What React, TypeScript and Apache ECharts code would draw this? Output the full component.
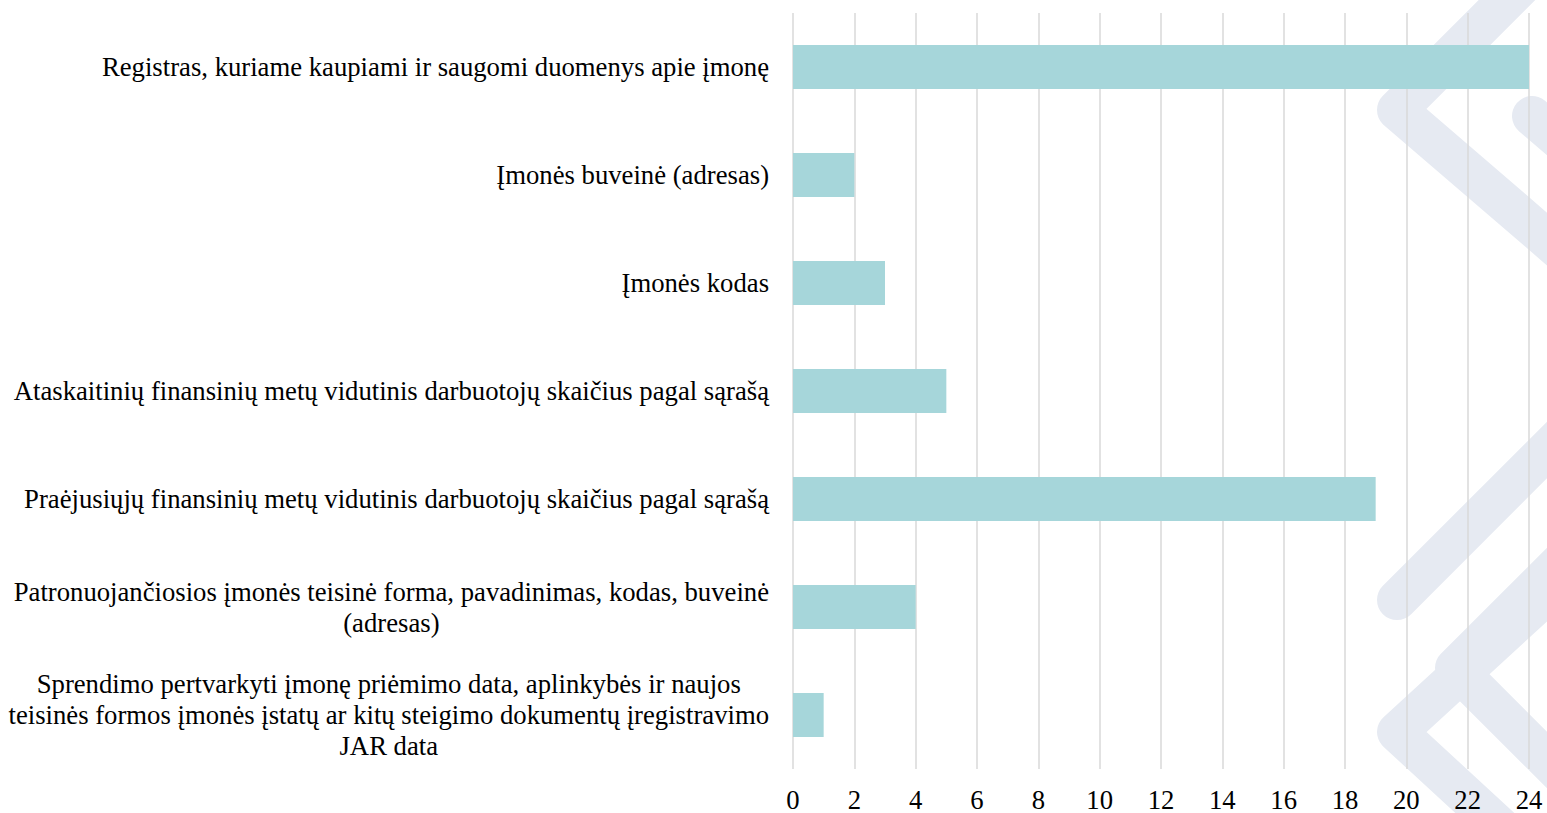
import React, { useEffect, useRef } from "react";
import * as echarts from "echarts";

const categories: string[] = [
  "Registras, kuriame kaupiami ir saugomi duomenys apie įmonę",
  "Įmonės buveinė (adresas)",
  "Įmonės kodas",
  "Ataskaitinių finansinių metų vidutinis darbuotojų skaičius pagal sąrašą",
  "Praėjusiųjų finansinių metų vidutinis darbuotojų skaičius pagal sąrašą",
  "Patronuojančiosios įmonės teisinė forma, pavadinimas, kodas, buveinė\n(adresas)",
  "Sprendimo pertvarkyti įmonę priėmimo data, aplinkybės ir naujos\nteisinės formos įmonės įstatų ar kitų steigimo dokumentų įregistravimo\nJAR data",
];
const values: number[] = [24, 2, 3, 5, 19, 4, 1];
const xMin = 0;
const xMax = 24;
const xInterval = 2;

// decorative watermark strokes (page pixel coordinates)
const watermarkStrokes: number[][][] = [
  [[1532, -25], [1397, 110], [1640, 319]],
  [[1532, 116], [1640, 209]],
  [[1397, 600], [1640, 357]],
  [[1640, 509], [1397, 732], [1640, 956]],
  [[1640, 483], [1455, 668], [1640, 853]],
];

const FONT = "Liberation Serif";
const FS = 26.7;

export default function App() {
  const ref = useRef<HTMLDivElement>(null);
  useEffect(() => {
    if (!ref.current) return;
    const chart = echarts.init(ref.current, null, { renderer: "svg" });
    chart.setOption({
      animation: false,
      backgroundColor: "#ffffff",
      textStyle: { fontFamily: FONT },
      graphic: watermarkStrokes.map((pts) => ({
        type: "polyline",
        z: -10,
        silent: true,
        shape: { points: pts },
        style: {
          stroke: "#E6EAF2",
          lineWidth: 40,
          lineCap: "round",
          lineJoin: "round",
          fill: null,
        },
      })),
      grid: { left: 793, right: 18, top: 13, bottom: 43 },
      xAxis: {
        type: "value",
        min: xMin,
        max: xMax,
        interval: xInterval,
        axisLine: { show: false },
        axisTick: { show: false },
        splitLine: { show: true, lineStyle: { color: "#D9D9D9", width: 1.5 } },
        axisLabel: {
          margin: 17,
          fontSize: FS,
          fontFamily: FONT,
          color: "#000",
        },
      },
      yAxis: {
        type: "category",
        inverse: true,
        data: categories,
        axisLine: { show: false },
        axisTick: { show: false },
        splitLine: { show: false },
        axisLabel: {
          margin: 24,
          align: "right",
          fontFamily: FONT,
          fontSize: FS,
          formatter: (v: string) =>
            v
              .split("\n")
              .map((l) => `{c|${l}}`)
              .join("\n"),
          rich: {
            c: {
              fontSize: FS,
              lineHeight: 31,
              fontFamily: FONT,
              color: "#000",
              align: "center",
            },
          },
        },
      },
      series: [
        {
          type: "bar",
          data: values,
          barWidth: 44,
          itemStyle: { color: "#A6D6DA" },
        },
      ],
    });
    return () => chart.dispose();
  }, []);
  return (
    <div
      ref={ref}
      style={{ position: "absolute", left: 0, top: 0, width: 1547, height: 813 }}
    />
  );
}
